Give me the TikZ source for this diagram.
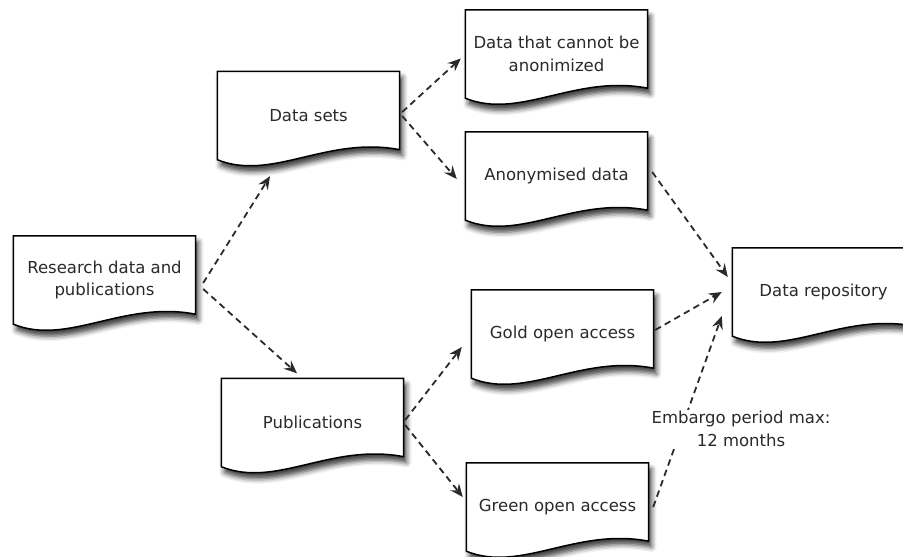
\documentclass[tikz,border=0pt]{standalone}
\usepackage{fontspec}
\setmainfont{DejaVu Sans}
\usetikzlibrary{calc,arrows.meta,shadows.blur,backgrounds}
\definecolor{ink}{HTML}{2A2A2A}
\tikzset{
  doc/.style={minimum width=182pt, minimum height=88pt, inner sep=0pt,
    align=center, text=ink, font=\fontsize{16.5}{22.5}\selectfont},
  docbox/.style={draw=black, line width=1.5pt, fill=white, line join=miter,
    blur shadow={shadow xshift=3pt, shadow yshift=-6pt,
      shadow blur radius=5pt, shadow opacity=75}},
  link/.style={draw=ink, line width=1.8pt, dash pattern=on 6.5pt off 4.5pt,
    -{Stealth[length=13pt,width=11pt,inset=4.5pt]}},
  note/.style={text=ink, align=center, fill=white, inner sep=1pt,
    font=\fontsize{16.5}{23}\selectfont},
}
% document outline (wavy bottom edge) around a node
\newcommand\docoutline[1]{%
  \path[docbox] (#1.south west) -- (#1.north west) -- (#1.north east)
    -- ($(#1.south east)+(0,-10)$)
    .. controls ($(#1.south west)!0.6!(#1.south east)+(0,-24)$)
       and ($(#1.south west)!0.3!(#1.south east)+(0,22)$) .. (#1.south west)
    -- cycle;}

\begin{document}
\begin{tikzpicture}[x=1pt,y=-1pt]
\useasboundingbox (0,0) rectangle (903,557);

% documents
\node[doc] (res)    at (104.5,280)   {Research data and\\publications};
\node[doc] (ds)     at (308.5,115.5) {Data sets};
\node[doc] (cannot) at (556.5,54)    {Data that cannot be\\anonimized};
\node[doc] (anon)   at (556.5,176)   {Anonymised data};
\node[doc] (repo)   at (823.5,292)   {Data repository};
\node[doc] (gold)   at (562.5,334)   {Gold open access};
\node[doc] (green)  at (557.5,507)   {Green open access};
\node[doc] (pub)    at (312.5,422.5) {Publications};

\begin{scope}[on background layer]
  \foreach \n in {res,ds,cannot,anon,repo,gold,green,pub} {\docoutline{\n}}
\end{scope}

% connectors
\draw[link] ([shift={(7.5,3)}]res.east)   -- ([shift={(-38.5,16.5)}]ds.south);
\draw[link] ([shift={(7.5,9)}]res.east)   -- ([shift={(-15.5,-5)}]pub.north);
\draw[link] ([shift={(2.5,-3.5)}]ds.east) -- ([shift={(-4.5,4.5)}]cannot.west);
\draw[link] ([shift={(2.5,0.5)}]ds.east)  -- ([shift={(-8.5,3)}]anon.west);
\draw[link] ([shift={(4.5,-4)}]anon.east) -- ([shift={(-4.5,-15)}]repo.west);
\draw[link] ([shift={(1.5,-4)}]gold.east) -- ([shift={(-10.5,0)}]repo.west);
\draw[link] ([shift={(4.5,0)}]green.east) -- ([shift={(-10.5,24)}]repo.west);
\draw[link] ([shift={(1.5,-2.5)}]pub.east) -- ([shift={(-9.5,13)}]gold.west);
\draw[link] ([shift={(1.5,2.5)}]pub.east)  -- ([shift={(-3.5,-10)}]green.west);

% label sitting on the embargo connector
\node[note] (embargo) at (741,429) {Embargo period max:\\12 months};
\end{tikzpicture}
\end{document}
